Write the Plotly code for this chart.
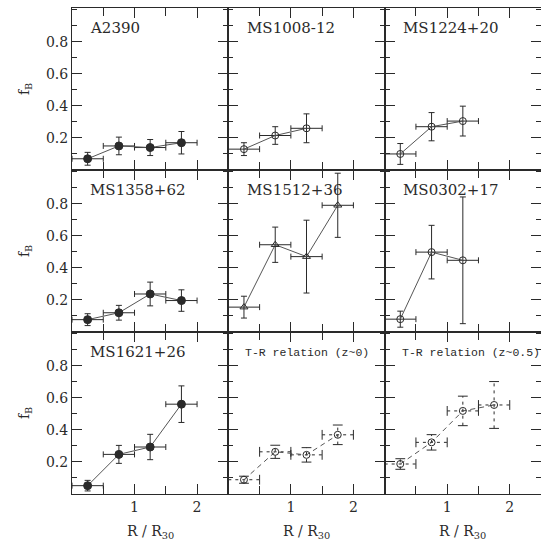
import plotly.graph_objects as go
from plotly.subplots import make_subplots

# ---------------- data ----------------
r_bins = [0.25, 0.75, 1.25, 1.75]
r_err = 0.25

a2390_fb = [0.07, 0.15, 0.14, 0.17]
a2390_err = [0.04, 0.055, 0.05, 0.07]
ms1008_fb = [0.13, 0.215, 0.26]
ms1008_err = [0.04, 0.055, 0.09]
ms1224_fb = [0.10, 0.27, 0.305]
ms1224_err = [0.065, 0.088, 0.093]
ms1358_fb = [0.077, 0.12, 0.237, 0.196]
ms1358_err = [0.037, 0.046, 0.074, 0.067]
ms1512_fb = [0.155, 0.544, 0.47, 0.79]
ms1512_err = [0.068, 0.11, 0.227, 0.2]
ms0302_fb = [0.08, 0.498, 0.447]
ms0302_err = [0.05, 0.167, 0.395]
ms1621_fb = [0.052, 0.247, 0.293, 0.56]
ms1621_err = [0.033, 0.056, 0.079, 0.114]
tr0_fb = [0.089, 0.263, 0.244, 0.369]
tr0_err = [0.022, 0.041, 0.045, 0.061]
tr05_fb = [0.187, 0.322, 0.518, 0.555]
tr05_err = [0.033, 0.048, 0.092, 0.146]

panel_names = ["A2390", "MS1008-12", "MS1224+20",
               "MS1358+62", "MS1512+36", "MS0302+17",
               "MS1621+26", "T-R relation (z~0)", "T-R relation (z~0.5)"]
panel_values = [a2390_fb, ms1008_fb, ms1224_fb, ms1358_fb, ms1512_fb,
                ms0302_fb, ms1621_fb, tr0_fb, tr05_fb]
panel_errors = [a2390_err, ms1008_err, ms1224_err, ms1358_err, ms1512_err,
                ms0302_err, ms1621_err, tr0_err, tr05_err]
panel_symbols = ["circle", "circle-open", "circle-open",
                 "circle", "triangle-up-open", "circle-open",
                 "circle", "circle-open", "circle-open"]
y_ticks = [0.2, 0.4, 0.6, 0.8]
x_ticks = [1, 2]

INK = "#2a2a2a"
LINE = "#555555"

fig = make_subplots(rows=3, cols=3, horizontal_spacing=0, vertical_spacing=0)

for i in range(9):
    row, col = i // 3 + 1, i % 3 + 1
    ys = panel_values[i]
    es = panel_errors[i]
    xs = r_bins[:len(ys)]
    dashed = panel_names[i].startswith("T-R")
    msize = 8 if panel_symbols[i] == "circle" else 7
    if not dashed:
        fig.add_trace(go.Scatter(
            x=xs, y=ys, mode="lines+markers",
            line=dict(color=LINE, width=1),
            marker=dict(symbol=panel_symbols[i], size=msize, color=INK,
                        line=dict(color=INK, width=1)),
            error_x=dict(type="constant", value=r_err, color=INK,
                         thickness=1, width=3),
            error_y=dict(type="data", array=es, color=INK,
                         thickness=1, width=3),
            showlegend=False), row=row, col=col)
    else:
        ex, ey = [], []
        for x, y, e in zip(xs, ys, es):
            ex += [x - r_err, x + r_err, None, x, x, None]
            ey += [y, y, None, y - e, y + e, None]
        fig.add_trace(go.Scatter(
            x=ex, y=ey, mode="lines",
            line=dict(color=INK, width=1, dash="3px,4px"),
            showlegend=False), row=row, col=col)
        cx = [x - r_err for x in xs] + [x + r_err for x in xs]
        cy = list(ys) + list(ys)
        fig.add_trace(go.Scatter(
            x=cx, y=cy, mode="markers",
            marker=dict(symbol="line-ns", size=7,
                        line=dict(color=INK, width=1)),
            showlegend=False), row=row, col=col)
        vx = list(xs) + list(xs)
        vy = [y - e for y, e in zip(ys, es)] + [y + e for y, e in zip(ys, es)]
        fig.add_trace(go.Scatter(
            x=vx, y=vy, mode="markers",
            marker=dict(symbol="line-ew", size=7,
                        line=dict(color=INK, width=1)),
            showlegend=False), row=row, col=col)
        fig.add_trace(go.Scatter(
            x=xs, y=ys, mode="lines+markers",
            line=dict(color=LINE, width=1, dash="5px,4px"),
            marker=dict(symbol=panel_symbols[i], size=7, color=INK,
                        line=dict(color=INK, width=1)),
            showlegend=False), row=row, col=col)

    axn = "" if i == 0 else str(i + 1)
    small = panel_names[i].startswith("T-R")
    fig.add_annotation(
        xref=f"x{axn} domain", yref=f"y{axn} domain",
        x=0.105 if not small else 0.095, y=0.875,
        xanchor="left", yanchor="middle", showarrow=False,
        text=panel_names[i],
        font=dict(family="DejaVu Serif" if not small else "Liberation Mono",
                  size=15 if not small else 11.5, color=INK))

    fig.update_xaxes(
        range=[0, 2.5], tickvals=x_ticks, ticktext=[str(t) for t in x_ticks],
        ticks="inside", ticklen=10, tickwidth=1, tickcolor=INK,
        minor=dict(tickvals=[0.5, 1.5], ticks="inside", ticklen=8,
                   tickwidth=1, tickcolor=INK),
        showticklabels=(row == 3),
        mirror="allticks", showline=True, linecolor=INK, linewidth=1,
        showgrid=False, zeroline=False,
        tickfont=dict(family="DejaVu Serif", size=14, color=INK),
        row=row, col=col)
    fig.update_yaxes(
        range=[0, 1.01], tickvals=y_ticks,
        ticktext=[f"{t:.1f}" for t in y_ticks],
        ticks="inside", ticklen=10, tickwidth=1, tickcolor=INK,
        minor=dict(dtick=0.1, ticks="inside", ticklen=5, tickwidth=1,
                   tickcolor=INK),
        showticklabels=(col == 1),
        mirror="allticks", showline=True, linecolor=INK, linewidth=1,
        showgrid=False, zeroline=False,
        tickfont=dict(family="DejaVu Serif", size=14, color=INK),
        row=row, col=col)

# axis titles
for r, yc in enumerate([5 / 6, 1 / 2, 1 / 6]):
    fig.add_annotation(xref="paper", yref="paper", x=-0.1, y=yc,
                       text="f<sub>B</sub>", textangle=-90, showarrow=False,
                       xanchor="center", yanchor="middle",
                       font=dict(family="DejaVu Serif", size=14, color=INK))
for c, xc in enumerate([1 / 6, 1 / 2, 5 / 6]):
    fig.add_annotation(xref="paper", yref="paper", x=xc, y=-0.078,
                       text="R / R<sub>30</sub>", showarrow=False,
                       xanchor="center", yanchor="middle",
                       font=dict(family="DejaVu Serif", size=14, color=INK))

fig.update_layout(
    width=541, height=545,
    margin=dict(l=72, r=0, t=8, b=51),
    paper_bgcolor="white", plot_bgcolor="white",
    showlegend=False)

fig.write_html("out.html")
